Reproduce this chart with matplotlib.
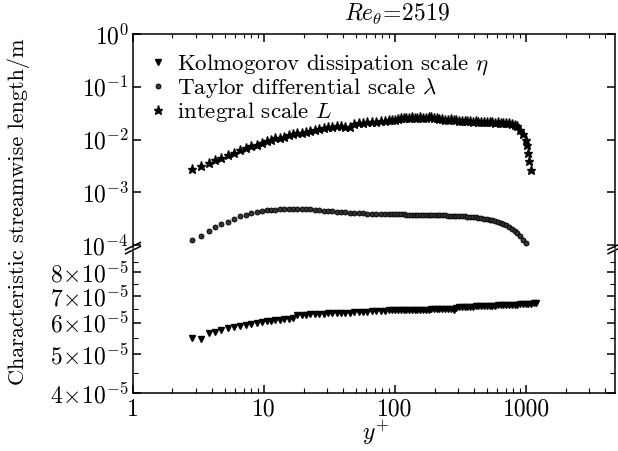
import numpy as np
import matplotlib
matplotlib.use("Agg")
import matplotlib.pyplot as plt
from matplotlib.ticker import FixedLocator, NullFormatter, LogLocator

plt.rcParams.update({
    "font.family": "serif",
    "font.serif": ["cmr10", "DejaVu Serif"],
    "mathtext.fontset": "cm",
    "axes.unicode_minus": False,
    "axes.formatter.use_mathtext": True,
})

# ---------------- data ----------------
# integral scale L (units of 1e-3 m)
yplus_L = [2.8, 3.3, 3.8, 4.2, 4.7, 5.3, 5.9, 6.6, 7.3, 8.0, 8.8, 9.6,
           10.5, 11.3, 12.2, 13.2, 14.2, 15.4, 16.6, 17.9, 19.4, 20.9, 22.6, 24.4,
           26.4, 28.5, 30.8, 33.2, 35.9, 38.7, 41.8, 45.2, 48.8, 52.7, 56.9, 61.5,
           66.4, 71.7, 77.4, 83.6, 90.3, 95.5,
           100, 105, 110, 116, 122, 128, 134, 141, 148, 155, 163, 171, 180, 189,
           198, 208, 218, 229, 241, 253, 265, 279, 293, 307, 323, 339, 356, 374,
           392, 412, 432, 454, 477, 500, 525, 552, 579, 608, 639, 670, 704, 739,
           776, 815, 856, 899, 944, 991, 1010, 1035, 1050, 1080]
L_mm = [2.75, 3.2, 3.65, 4.1, 4.5, 5.1, 5.6, 6.3, 6.9, 7.4, 8.0, 8.6,
        9.6, 10.0, 10.5, 10.9, 11.4, 12.0, 12.6, 13.1, 13.6, 14.1, 14.8, 15.3,
        15.9, 16.4, 17.0, 17.6, 18.0, 17.8, 17.4, 17.6, 19.8, 20.4, 20.9, 21.3,
        21.7, 22.0, 22.4, 22.6, 23.0, 23.5,
        24.0, 24.6, 25.2, 25.8, 26.2, 25.9, 26.3, 25.8, 26.1, 26.5, 25.7, 26.0, 26.6, 27.0,
        26.2, 25.4, 24.6, 24.9, 24.0, 23.6, 24.1, 23.2, 23.5, 22.8, 22.4, 22.9, 22.1, 22.4,
        21.8, 22.2, 21.6, 21.9, 21.4, 21.6, 21.1, 21.4, 20.9, 21.2, 20.7, 20.9, 20.4, 20.5,
        20.0, 19.2, 17.8, 15.5, 12.8, 10.0, 7.9, 5.5, 4.0, 2.65]

# Taylor differential scale lambda (units of 1e-4 m)
yplus_lam = [2.8, 3.3, 3.8, 4.2, 4.7, 5.3, 5.9, 6.6, 7.3, 8.0, 8.8, 9.6,
             10.5, 11.3, 12.2, 13.2, 14.2, 15.4, 16.6, 17.9, 19.4, 20.9, 22.6, 24.4,
             26.4, 28.5, 30.8, 33.2, 35.9, 38.7, 41.8, 45.2, 48.8, 52.7, 56.9, 61.5,
             66.4, 71.7, 77.4, 83.6, 90.3, 95.5,
             100, 105, 110, 116, 122, 128, 134, 141, 148, 155, 163, 171, 180, 189,
             198, 208, 218, 229, 241, 253, 265, 279, 293, 307, 323, 339, 356, 374,
             392, 412, 432, 454, 477, 500, 525, 552, 579, 608, 639, 670, 704, 739,
             776, 815, 856, 899, 944, 991]
lam_e4 = [1.25, 1.51, 1.88, 2.19, 2.48, 2.79, 3.08, 3.5, 3.8, 4.05, 4.25, 4.45,
          4.57, 4.65, 4.7, 4.75, 4.8, 4.85, 4.9, 4.95, 4.9, 4.85, 4.75, 4.65,
          4.57, 4.5, 4.42, 4.35, 4.3, 4.25, 4.2, 4.15, 4.1, 4.06, 4.02, 3.98,
          3.95, 3.92, 3.9, 3.88, 3.87, 3.86,
          3.85, 3.84, 3.83, 3.82, 3.81, 3.80, 3.79, 3.78, 3.77, 3.76, 3.75, 3.74, 3.73, 3.72,
          3.71, 3.70, 3.69, 3.68, 3.66, 3.64, 3.62, 3.60, 3.62, 3.60, 3.56, 3.52, 3.48, 3.44,
          3.40, 3.35, 3.30, 3.24, 3.18, 3.11, 3.04, 2.96, 2.87, 2.77, 2.66, 2.54, 2.40, 2.22,
          2.05, 1.87, 1.67, 1.47, 1.27, 1.10]

# Kolmogorov dissipation scale eta (units of 1e-5 m)
yplus_eta = [2.8, 3.3, 3.8, 4.2, 4.7, 5.3, 5.9, 6.6, 7.3, 8.0, 8.8, 9.6,
             10.5, 11.3, 12.2, 13.2, 14.2, 15.4, 16.6, 17.9, 19.4, 20.9, 22.6, 24.4,
             26.4, 28.5, 30.8, 33.2, 35.9, 38.7, 41.8, 45.2, 48.8, 52.7, 56.9, 61.5,
             66.4, 71.7, 77.4, 83.6, 90.3, 95.5,
             100, 105, 110, 116, 122, 128, 134, 141, 148, 155, 163, 171, 180, 189,
             198, 208, 218, 229, 241, 253, 265, 279, 293, 307, 323, 339, 356, 374,
             392, 412, 432, 454, 477, 500, 525, 552, 579, 608, 639, 670, 704, 739,
             776, 815, 856, 899, 944, 991, 1040, 1090, 1140, 1190]
eta_e5 = [5.50, 5.47, 5.65, 5.69, 5.75, 5.81, 5.84, 5.88, 5.91, 5.95, 5.98, 6.02,
          6.05, 6.06, 6.08, 6.09, 6.11, 6.13, 6.15, 6.26, 6.27, 6.28, 6.29, 6.30,
          6.31, 6.31, 6.32, 6.33, 6.33, 6.34, 6.34, 6.35, 6.36, 6.37, 6.38, 6.39,
          6.40, 6.41, 6.42, 6.42, 6.43, 6.43,
          6.44, 6.44, 6.44, 6.45, 6.45, 6.45, 6.45, 6.45, 6.46, 6.46, 6.46, 6.46, 6.46, 6.47,
          6.47, 6.47, 6.47, 6.47, 6.48, 6.48, 6.48, 6.43, 6.54, 6.55, 6.55, 6.56, 6.56, 6.57,
          6.57, 6.58, 6.58, 6.59, 6.59, 6.60, 6.60, 6.61, 6.61, 6.62, 6.62, 6.63, 6.63, 6.64,
          6.64, 6.65, 6.65, 6.66, 6.66, 6.67, 6.68, 6.69, 6.70, 6.71]

labels = [r"Kolmogorov dissipation scale $\eta$",
          r"Taylor differential scale $\lambda$",
          r"integral scale $L$"]
title = r"$Re_\theta\!=\!2519$"
xlabel = r"$y^{+}$"
ylabel = "Characteristic streamwise length/m"

top_ticks = [1e-4, 1e-3, 1e-2, 1e-1, 1e0]
top_ticklabels = [r"$10^{-4}$", r"$10^{-3}$", r"$10^{-2}$", r"$10^{-1}$", r"$10^{0}$"]
bot_ticks = [4e-5, 5e-5, 6e-5, 7e-5, 8e-5]
bot_ticklabels = [r"$4\!\times\!10^{-5}$", r"$5\!\times\!10^{-5}$", r"$6\!\times\!10^{-5}$",
                  r"$7\!\times\!10^{-5}$", r"$8\!\times\!10^{-5}$"]
bot_minor = [4.5e-5, 5.5e-5, 6.5e-5, 7.5e-5, 8.5e-5]
x_ticks = [1, 10, 100, 1000]
x_ticklabels = ["1", "10", "100", "1000"]

L = np.array(L_mm) * 1e-3
lam = np.array(lam_e4) * 1e-4
eta = np.array(eta_e5) * 1e-5

FS = 17

# ---------------- figure ----------------
fig = plt.figure(figsize=(6.18, 4.51), dpi=100)
left, width = 0.2152, 0.7807
ax_t = fig.add_axes([left, 0.451, width, 0.4736])
ax_b = fig.add_axes([left, 0.1286, width, 0.3126], sharex=ax_t)

for ax in (ax_t, ax_b):
    ax.set_xscale("log")
    ax.set_yscale("log")
    for s in ax.spines.values():
        s.set_linewidth(1.1)

ax_t.spines["bottom"].set_visible(False)
ax_b.spines["top"].set_visible(False)

ms_kw = dict(linestyle="none", color="black")
h_eta, = ax_b.plot(yplus_eta, eta, marker="v", markersize=4.8, **ms_kw)
h_lam, = ax_t.plot(yplus_lam, lam, marker="o", markersize=3.6, markerfacecolor="#333333",
                   markeredgecolor="black", markeredgewidth=0.6, linestyle="none")
h_L, = ax_t.plot(yplus_L, L, marker="*", markersize=6.8, **ms_kw)

ax_t.set_xlim(1, 4800)
ax_t.set_ylim(9e-5, 1.0)
ax_b.set_ylim(4e-5, 9e-5)

# ticks
ax_t.yaxis.set_major_locator(FixedLocator(top_ticks))
ax_t.set_yticklabels(top_ticklabels)
ax_t.yaxis.set_minor_locator(LogLocator(base=10, subs=np.arange(2, 10)))
ax_t.yaxis.set_minor_formatter(NullFormatter())

ax_b.yaxis.set_major_locator(FixedLocator(bot_ticks))
ax_b.set_yticklabels(bot_ticklabels)
ax_b.yaxis.set_minor_locator(FixedLocator(bot_minor))
ax_b.yaxis.set_minor_formatter(NullFormatter())

ax_b.xaxis.set_major_locator(FixedLocator(x_ticks))
ax_b.set_xticklabels(x_ticklabels)
ax_b.xaxis.set_minor_locator(LogLocator(base=10, subs=np.arange(2, 10)))
ax_b.xaxis.set_minor_formatter(NullFormatter())

ax_t.tick_params(axis="both", which="both", direction="in", top=True, bottom=False,
                 left=True, right=True, labelbottom=False, labelsize=FS)
ax_t.tick_params(which="major", length=6, width=1.1, pad=3)
ax_t.tick_params(which="minor", length=3, width=0.8)
ax_b.tick_params(axis="both", which="both", direction="in", top=False, bottom=True,
                 left=True, right=True, labelsize=FS)
ax_b.tick_params(which="major", length=6, width=1.1, pad=3)
ax_b.tick_params(which="minor", length=3.5, width=0.8)
ax_b.tick_params(axis="x", which="major", pad=4)

# break marks
d = 0.012
for xs in (0, 1):
    kw = dict(transform=fig.transFigure, color="black", lw=1.1, clip_on=False)
    xf = left + xs * width
    for dy in (0.0, 0.009):
        yb = 0.4455 + dy
        fig.add_artist(plt.Line2D([xf - d, xf + d], [yb - 0.008, yb + 0.008], **kw))

# legend
leg = ax_t.legend([h_eta, h_lam, h_L], labels, loc="upper left", frameon=False,
                  fontsize=16.5, handlelength=0.6, handletextpad=0.5,
                  labelspacing=-0.02, borderaxespad=0.45, borderpad=0.35)

fig.text(0.6425, 0.968, title, ha="center", va="center", fontsize=FS)
fig.text(0.608, 0.04, xlabel, ha="center", va="center", fontsize=FS)
fig.text(0.030, 0.53, ylabel, ha="center", va="center", rotation=90, fontsize=16)

fig.savefig("out.png", dpi=100)
